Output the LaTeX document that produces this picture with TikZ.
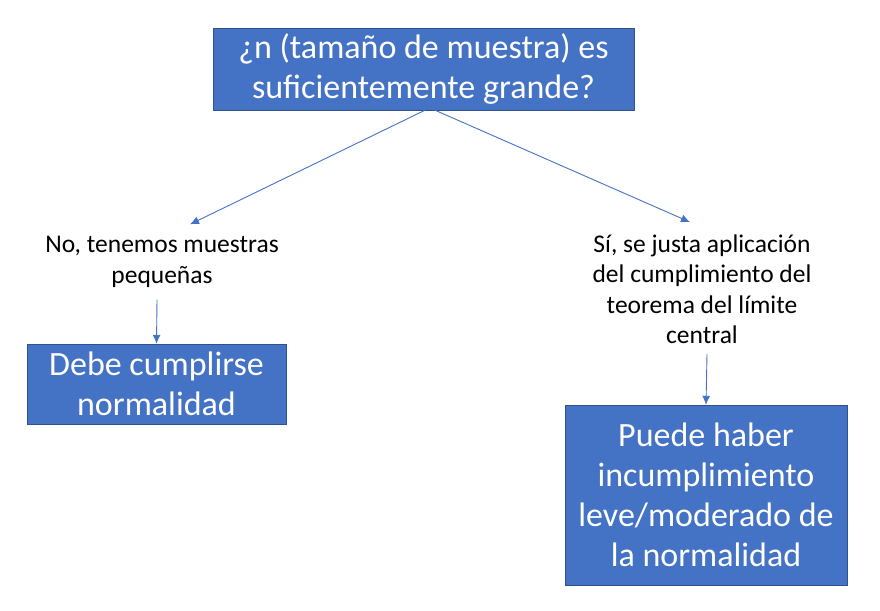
\documentclass[tikz,border=0pt]{standalone}
\usepackage{fontspec}
\setmainfont{Carlito}
\definecolor{boxblue}{HTML}{4472C4}
\definecolor{boxedge}{HTML}{2F528F}
\tikzset{
    bluebox/.style={draw=boxedge, fill=boxblue, text=white, align=center,
        font=\fontsize{34}{40}\selectfont, inner sep=0pt},
    answer/.style={align=center, font=\fontsize{25.5}{30.5}\selectfont, inner sep=0pt},
    arr/.style={-{Latex[length=9pt,width=8pt]}, draw=boxblue, line width=0.9pt}
}
\usetikzlibrary{arrows.meta}
\begin{document}
\begin{tikzpicture}[x=1pt,y=-1pt]
        \useasboundingbox (0,0) rectangle (880,610);
        \node[bluebox, minimum width=421pt, minimum height=82pt] (quest) at (423.5,69)
            {¿n (tamaño de muestra) es\\suficientemente grande?};
        \node[answer] (nolabel) at (162,262) {No, tenemos muestras\\pequeñas};
        \node[answer] (silabel) at (702,289) {Sí, se justa aplicación\\del cumplimiento del\\teorema del límite\\central};
        \node[bluebox, minimum width=259pt, minimum height=80pt] (normbox) at (156.5,384)
            {Debe cumplirse\\normalidad};
        \node[bluebox, minimum width=282pt, minimum height=180pt] (leve) at (706,495)
            {Puede haber\\incumplimiento\\leve/moderado de\\la normalidad};

        \draw[arr] ([xshift=1.5pt]quest.south) -- ([xshift=28pt,yshift=12pt]nolabel.north);
        \draw[arr] ([xshift=11.5pt]quest.south) -- ([xshift=-12pt,yshift=12pt]silabel.north);
        \draw[arr] ([xshift=-5pt,yshift=-12pt]nolabel.south) -- (normbox.north);
        \draw[arr] ([xshift=5pt,yshift=-10pt]silabel.south) -- (leve.north);
    \end{tikzpicture}
\end{document}
